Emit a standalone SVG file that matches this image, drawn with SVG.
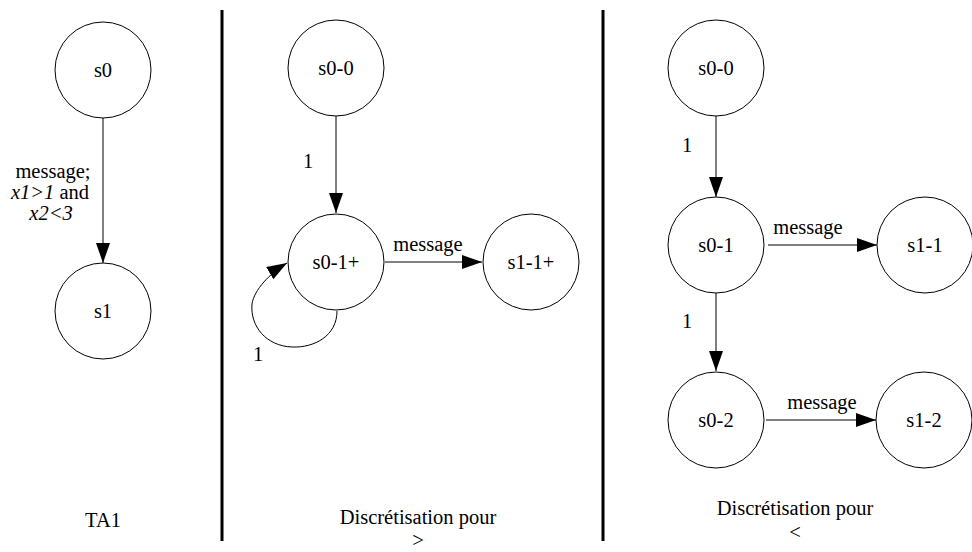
<svg xmlns="http://www.w3.org/2000/svg" width="972" height="552" viewBox="0 0 972 552">
  <style>
    text { font-family: "Liberation Serif", "Times New Roman", serif; font-size: 20.5px; fill: #000; }
    .lbl { text-anchor: middle; }
    .node circle { fill: #fff; stroke: #000; stroke-width: 1; }
    .node text { text-anchor: middle; }
    .edge { fill: none; stroke: #000; stroke-width: 1; marker-end: url(#arrow); }
    .sep { stroke: #000; stroke-width: 3; }
    .it { font-style: italic; }
  </style>
  <defs>
    <marker id="arrow" markerUnits="userSpaceOnUse" markerWidth="22" markerHeight="16" refX="20" refY="7" orient="auto">
      <path d="M0,0 L20,7 L0,14 Z" fill="#000"/>
    </marker>
  </defs>

  <!-- panel separators -->
  <line class="sep" x1="222" y1="10" x2="222" y2="541"/>
  <line class="sep" x1="603" y1="10" x2="603" y2="541"/>

  <g id="edges">
    <!-- TA1 -->
    <path class="edge" d="M103,118 L103,263"/>
    <!-- discretisation > -->
    <path class="edge" d="M336,116 L336,213"/>
    <path class="edge" d="M385,262 L482,262"/>
    <path class="edge" d="M337,311 C337,336 314,348 292,347 C266,346 250,326 252,304 C254,290 270,273 287,263"/>
    <!-- discretisation < -->
    <path class="edge" d="M716,116 L716,197"/>
    <path class="edge" d="M716,293 L716,371"/>
    <path class="edge" d="M768,245 L877,245"/>
    <path class="edge" d="M766,420 L876,420"/>
  </g>

  <g id="edge-labels">
    <text class="lbl" x="53" y="178">message;</text>
    <text class="lbl" x="50" y="199"><tspan class="it">x1&gt;1</tspan> and</text>
    <text class="lbl" x="51" y="220" font-style="italic">x2&lt;3</text>
    <text class="lbl" x="308" y="168">1</text>
    <text class="lbl" x="428" y="251">message</text>
    <text class="lbl" x="258" y="361">1</text>
    <text class="lbl" x="687" y="152">1</text>
    <text class="lbl" x="687" y="328">1</text>
    <text class="lbl" x="808" y="234">message</text>
    <text class="lbl" x="822" y="409">message</text>
  </g>

  <g id="s0" class="node"><circle cx="103" cy="70" r="48"/><text x="103" y="77">s0</text></g>
  <g id="s1" class="node"><circle cx="103" cy="311" r="48"/><text x="103" y="318">s1</text></g>

  <g id="s0-0-gt" class="node"><circle cx="336" cy="68" r="48"/><text x="336" y="75">s0-0</text></g>
  <g id="s0-1plus" class="node"><circle cx="336" cy="262" r="48"/><text x="336" y="269">s0-1+</text></g>
  <g id="s1-1plus" class="node"><circle cx="531" cy="262" r="48"/><text x="531" y="269">s1-1+</text></g>

  <g id="s0-0-lt" class="node"><circle cx="716" cy="68" r="48"/><text x="716" y="75">s0-0</text></g>
  <g id="s0-1" class="node"><circle cx="716" cy="245" r="48"/><text x="716" y="252">s0-1</text></g>
  <g id="s1-1" class="node"><circle cx="925" cy="245" r="48"/><text x="925" y="252">s1-1</text></g>
  <g id="s0-2" class="node"><circle cx="716" cy="420" r="48"/><text x="716" y="427">s0-2</text></g>
  <g id="s1-2" class="node"><circle cx="924" cy="420" r="48"/><text x="924" y="427">s1-2</text></g>

  <g id="captions">
    <text class="lbl" x="103" y="527">TA1</text>
    <text class="lbl" x="418" y="524">Discrétisation pour</text>
    <text class="lbl" x="418" y="547">&gt;</text>
    <text class="lbl" x="795" y="515">Discrétisation pour</text>
    <text class="lbl" x="795" y="539">&lt;</text>
  </g>
</svg>
